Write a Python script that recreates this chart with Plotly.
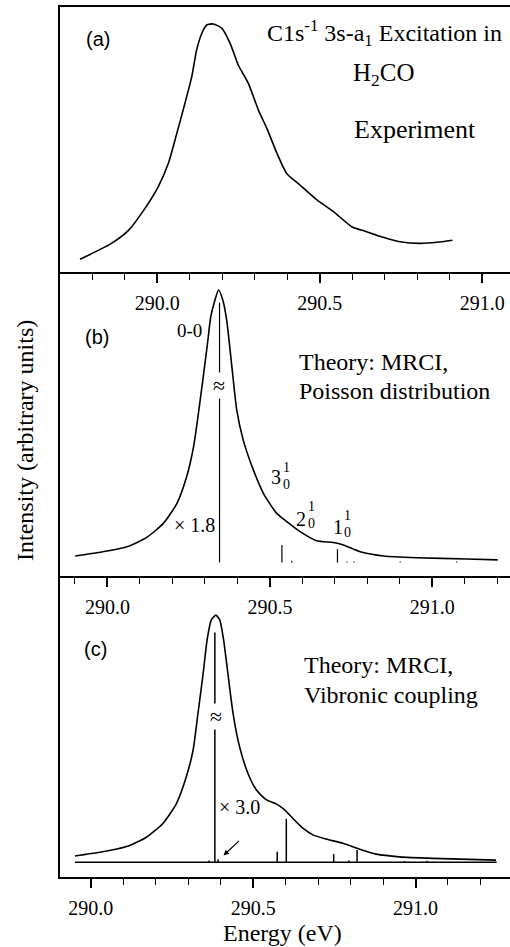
import plotly.graph_objects as go

# ---------------- data ----------------
# Panel (a): experimental spectrum
exp_E = [289.762, 289.855, 289.912, 289.962, 290.003, 290.034, 290.060, 290.085, 290.106,
         290.121, 290.137, 290.152, 290.172, 290.198, 290.224, 290.249, 290.280, 290.311,
         290.337, 290.368, 290.398, 290.439, 290.491, 290.542, 290.598, 290.644, 290.695,
         290.747, 290.808, 290.860, 290.908]
exp_I = [0.048, 0.105, 0.158, 0.240, 0.322, 0.410, 0.523, 0.637, 0.737,
         0.838, 0.901, 0.932, 0.936, 0.920, 0.863, 0.781, 0.712, 0.611,
         0.542, 0.448, 0.372, 0.328, 0.272, 0.228, 0.171, 0.152, 0.131,
         0.114, 0.108, 0.112, 0.120]

# Panel (b): theory, Poisson distribution
poi_E = [289.901, 289.978, 290.060, 290.121, 290.172, 290.214, 290.244, 290.265, 290.280,
         290.295, 290.308, 290.318, 290.331, 290.342, 290.355, 290.367, 290.383, 290.398,
         290.418, 290.449, 290.480, 290.521, 290.552, 290.593, 290.644, 290.695, 290.726,
         290.778, 290.850, 290.952, 291.106, 291.201]
poi_I = [0.066, 0.078, 0.096, 0.127, 0.173, 0.239, 0.327, 0.425, 0.535,
         0.656, 0.765, 0.853, 0.908, 0.941, 0.908, 0.842, 0.688, 0.546,
         0.447, 0.349, 0.272, 0.206, 0.179, 0.146, 0.116, 0.110, 0.102,
         0.080, 0.066, 0.060, 0.056, 0.053]
poi_stick_E = [290.345, 290.537, 290.567, 290.708, 290.737, 290.759, 290.901, 291.075]
poi_stick_H = [0.856, 0.058, 0.006, 0.044, 0.004, 0.004, 0.004, 0.004]
poi_base = 0.044

# Panel (c): theory, vibronic coupling
vib_E = [289.951, 290.028, 290.110, 290.171, 290.222, 290.264, 290.294, 290.315, 290.330,
         290.346, 290.358, 290.371, 290.385, 290.397, 290.409, 290.422, 290.438, 290.458,
         290.484, 290.510, 290.541, 290.571, 290.597, 290.622, 290.653, 290.684, 290.725,
         290.776, 290.828, 290.879, 290.951, 291.053, 291.248]
vib_I = [0.070, 0.082, 0.101, 0.132, 0.178, 0.245, 0.333, 0.422, 0.544,
         0.677, 0.787, 0.854, 0.870, 0.854, 0.787, 0.677, 0.544, 0.433,
         0.344, 0.289, 0.256, 0.243, 0.223, 0.195, 0.162, 0.140, 0.126,
         0.112, 0.092, 0.076, 0.067, 0.062, 0.056]
vib_stick_E = [290.364, 290.382, 290.392, 290.574, 290.602, 290.748, 290.795, 290.820, 290.966, 291.036]
vib_stick_H = [0.006, 0.763, 0.010, 0.035, 0.144, 0.027, 0.006, 0.041, 0.004, 0.005]
vib_base = 0.049
vib_base_span = [289.951, 291.250]

x_ranges = [[289.7006, 291.085], [289.854, 291.239], [289.905, 291.291]]

# ---------------- figure ----------------
W, H = 510, 947
ML, MR, MT, MB = 60, 0, 7, 70
PW, PH = W - ML - MR, H - MT - MB


def px(x):
    return (x - ML) / PW


def py(y):
    return (H - MB - y) / PH


def sticks(E, Hs, base):
    xs, ys = [], []
    for e, h in zip(E, Hs):
        xs += [e, e, None]
        ys += [base, base + h, None]
    return xs, ys


fig = go.Figure()
LW = 1.6
fig.add_trace(go.Scatter(x=exp_E, y=exp_I, mode="lines", line=dict(color="black", width=LW, shape="spline", smoothing=0.6),
                         xaxis="x", yaxis="y", showlegend=False))
fig.add_trace(go.Scatter(x=poi_E, y=poi_I, mode="lines", line=dict(color="black", width=LW, shape="spline", smoothing=0.6),
                         xaxis="x2", yaxis="y2", showlegend=False))
sx, sy = sticks(poi_stick_E, poi_stick_H, poi_base)
fig.add_trace(go.Scatter(x=sx, y=sy, mode="lines", line=dict(color="black", width=1.2),
                         xaxis="x2", yaxis="y2", showlegend=False))
fig.add_trace(go.Scatter(x=vib_E, y=vib_I, mode="lines", line=dict(color="black", width=LW, shape="spline", smoothing=0.6),
                         xaxis="x3", yaxis="y3", showlegend=False))
sx, sy = sticks(vib_stick_E, vib_stick_H, vib_base)
fig.add_trace(go.Scatter(x=sx, y=sy, mode="lines", line=dict(color="black", width=1.5),
                         xaxis="x3", yaxis="y3", showlegend=False))
fig.add_trace(go.Scatter(x=vib_base_span, y=[vib_base, vib_base], mode="lines", line=dict(color="black", width=1.4),
                         xaxis="x3", yaxis="y3", showlegend=False))

d_a = [py(272), 1.0]
d_b = [py(576), py(272)]
d_c = [0.0, py(576)]

serif = "Liberation Serif"
sans = "Liberation Sans"


def xax(rng, anchor, mirror=False):
    return dict(range=rng, anchor=anchor, domain=[0, 1], tick0=290.0, dtick=0.5, tickformat=".1f",
                ticks="outside", ticklen=9, tickwidth=1.5, tickcolor="black",
                minor=dict(dtick=0.1, tick0=290.0, ticks="outside", ticklen=6, tickwidth=1.2, tickcolor="black"),
                showline=True, linewidth=2, linecolor="black", mirror=mirror,
                showgrid=False, zeroline=False, ticklabelstandoff=3,
                tickfont=dict(family=serif, size=20, color="black"))


def yax(dom, anchor):
    return dict(domain=dom, anchor=anchor, range=[0, 1], showline=True, linewidth=2, linecolor="black",
                showticklabels=False, ticks="", showgrid=False, zeroline=False)


annotations = []


def ann(x, y, text, size=24, family=serif, xanchor="center", yanchor="middle", **kw):
    annotations.append(dict(x=px(x), y=py(y), xref="paper", yref="paper", text=text, showarrow=False,
                            xanchor=xanchor, yanchor=yanchor,
                            font=dict(family=family, size=size, color="black"), **kw))


# panel (a)
ann(97.7, 39, "(a)", 20, sans)
ann(265, 33, "C1s<sup>-1</sup> 3s-a<sub>1</sub> Excitation in", 24, xanchor="left")
ann(384, 74, "H<sub>2</sub>CO", 25)
ann(415, 130, "Experiment", 26)
# panel (b)
ann(97, 337, "(b)", 20, sans)
ann(189, 331, "0-0", 19)
ann(297, 362, "Theory: MRCI,", 24, xanchor="left")
ann(297, 391, "Poisson distribution", 24, xanchor="left")
ann(194, 525, "× 1.8", 20)
ann(218.8, 385, "≈", 22, bgcolor="white", borderpad=0)
ann(276, 477, "3", 20)
ann(286, 467, "1", 14)
ann(286, 484, "0", 14)
ann(301, 519, "2", 20)
ann(311, 507, "1", 14)
ann(311, 523, "0", 14)
ann(338, 527, "1", 20)
ann(347, 515, "1", 14)
ann(347, 532, "0", 14)
# panel (c)
ann(95, 649, "(c)", 20, sans)
ann(302, 665, "Theory: MRCI,", 24, xanchor="left")
ann(302, 695, "Vibronic coupling", 24, xanchor="left")
ann(239, 807, "× 3.0", 20)
ann(215.5, 716, "≈", 22, bgcolor="white", borderpad=0)
annotations.append(dict(x=px(223.5), y=py(855.5), xref="paper", yref="paper", text="", showarrow=True,
                        ax=17, ay=-16, arrowhead=2, arrowsize=0.9, arrowwidth=1.2, arrowcolor="black"))
# axis titles
ann(282, 933, "Energy (eV)", 24)
ann(25, 441, "Intensity (arbitrary units)", 24, textangle=-90)

fig.update_layout(
    width=W, height=H, margin=dict(l=ML, r=MR, t=MT, b=MB),
    paper_bgcolor="white", plot_bgcolor="white",
    font=dict(family=serif, color="black"),
    xaxis=xax(x_ranges[0], "y", mirror=True), yaxis=yax(d_a, "x"),
    xaxis2=xax(x_ranges[1], "y2"), yaxis2=yax(d_b, "x2"),
    xaxis3=xax(x_ranges[2], "y3"), yaxis3=yax(d_c, "x3"),
    annotations=annotations, showlegend=False,
)

fig.write_html("out.html")
